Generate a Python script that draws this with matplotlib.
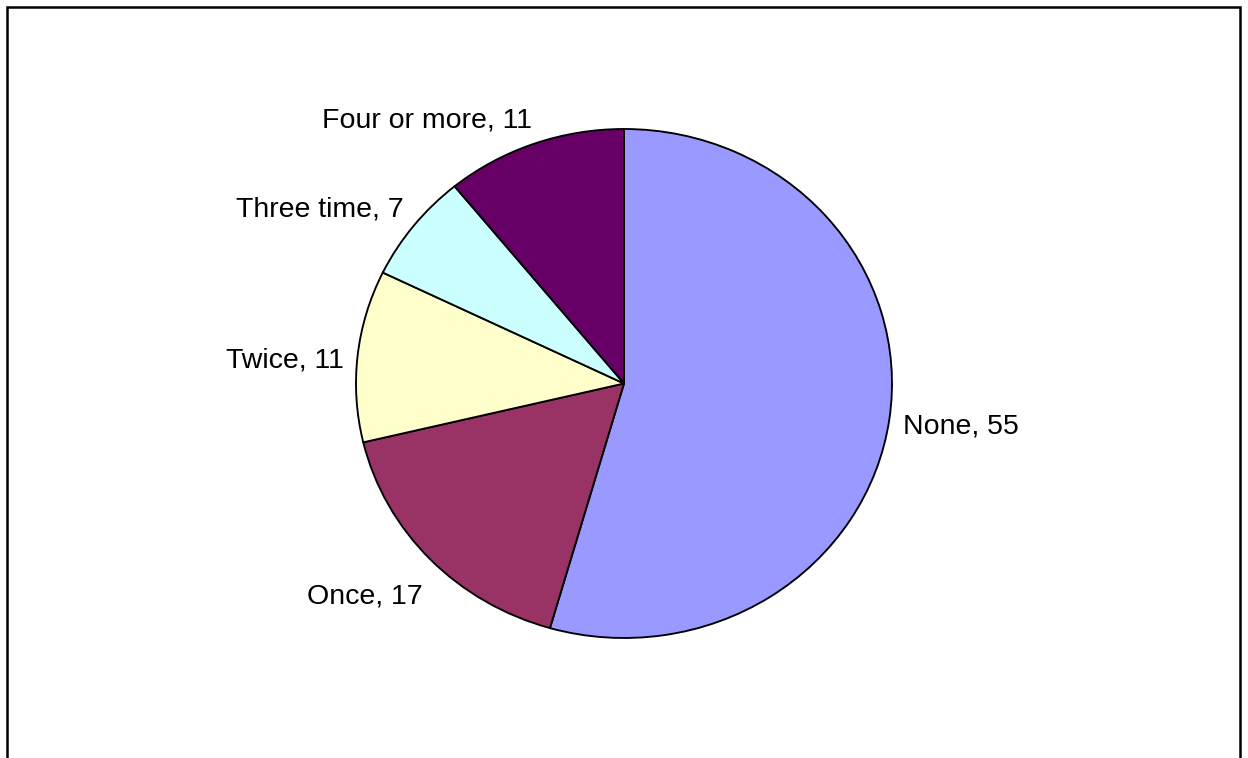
import numpy as np
import matplotlib
matplotlib.use("Agg")
import matplotlib.pyplot as plt
from matplotlib.lines import Line2D

plt.rcParams['font.family'] = ['Liberation Sans', 'DejaVu Sans']

# How many times
categories = ["None", "Once", "Twice", "Three time", "Four or more"]
values = [55, 17, 11, 7, 11]
colors = ["#9999FF", "#993366", "#FFFFCC", "#CCFFFF", "#660066"]

# label nudge from the slice's rim point, in pixels (dx, dy)
label_offsets = [(14, -14), (-8, -44), (-14, -12), (-10, 9), (-2, 16)]

W, H = 1248, 758
fig = plt.figure(figsize=(W / 100, H / 100), dpi=100)
fig.patch.set_facecolor("white")

# pie box: centre (624, 383.5), radii 268 x 254.5 px
cx, cy, rx, ry = 624, 383.5, 268, 254.5
ax = fig.add_axes([(cx - rx) / W, (H - cy - ry) / H, 2 * rx / W, 2 * ry / H])

wedges, _ = ax.pie(values, colors=colors, startangle=90, counterclock=False,
                   radius=1.0, wedgeprops=dict(edgecolor="black", linewidth=1.35))
ax.set_aspect("auto")
ax.set_xlim(-1, 1)
ax.set_ylim(-1, 1)
ax.axis("off")

for w, name, v, (dx, dy) in zip(wedges, categories, values, label_offsets):
    mid = np.deg2rad((w.theta1 + w.theta2) / 2)
    x, y = np.cos(mid), np.sin(mid)
    ax.annotate("{}, {}".format(name, v), xy=(x, y), xytext=(dx, dy),
                textcoords="offset pixels", ha="left" if x > 0 else "right",
                va="baseline", fontsize=20.5, color="black", annotation_clip=False)

# chart frame, open at the bottom
fx = lambda p: p / W
fy = lambda p: 1 - p / H
frame = Line2D([fx(7), fx(7), fx(1240.3), fx(1240.3)], [fy(770), fy(7), fy(7), fy(770)],
               transform=fig.transFigure, color="black", linewidth=1.8,
               solid_joinstyle="miter")
fig.add_artist(frame)

fig.savefig("out.png", dpi=100)
